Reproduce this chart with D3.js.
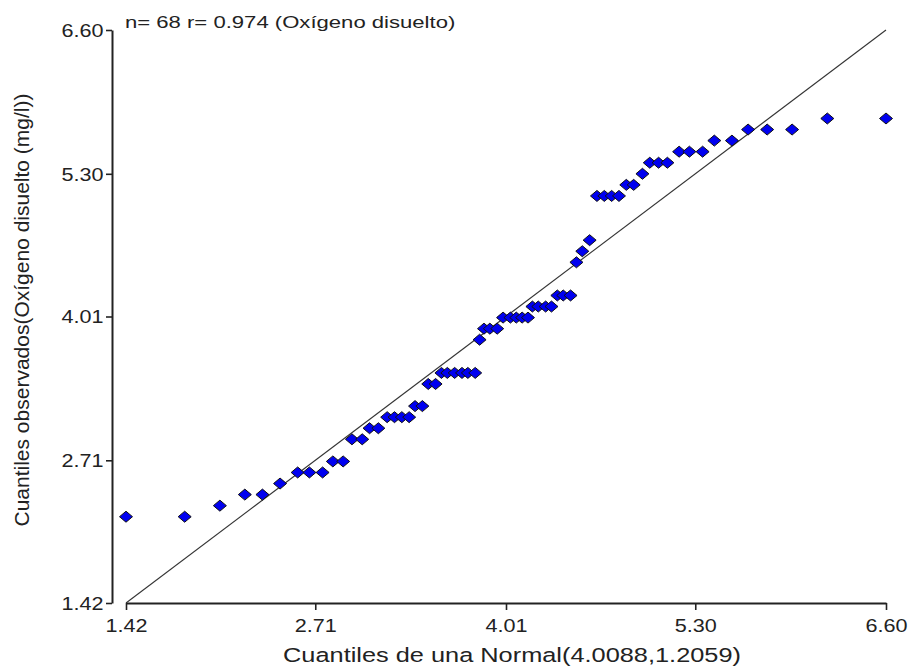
<!DOCTYPE html>
<html>
<head>
<meta charset="utf-8">
<script src="https://cdn.jsdelivr.net/npm/d3@7"></script>
<style>
  body { margin: 0; background: #fff; }
  text { font-family: "Liberation Sans", Arial, sans-serif; fill: #222; }
</style>
</head>
<body>
<div id="chart"></div>
<script>
const normalQuantiles = [
    1.42, 1.82, 2.06, 2.23, 2.35, 2.47, 2.59, 2.67, 2.76, 2.83,
    2.90, 2.96, 3.03, 3.08, 3.14, 3.20, 3.25, 3.30, 3.35, 3.39,
    3.44, 3.48, 3.53, 3.57, 3.61, 3.66, 3.71, 3.75, 3.80, 3.83,
    3.86, 3.90, 3.95, 3.99, 4.04, 4.08, 4.12, 4.16, 4.19, 4.23,
    4.28, 4.32, 4.36, 4.40, 4.45, 4.49, 4.53, 4.58, 4.63, 4.68,
    4.73, 4.78, 4.83, 4.88, 4.94, 4.99, 5.05, 5.11, 5.19, 5.26,
    5.35, 5.43, 5.55, 5.66, 5.79, 5.96, 6.20, 6.60
];
const observed = [
    2.2, 2.2, 2.3, 2.4, 2.4, 2.5, 2.6, 2.6, 2.6, 2.7,
    2.7, 2.9, 2.9, 3.0, 3.0, 3.1, 3.1, 3.1, 3.1, 3.2,
    3.2, 3.4, 3.4, 3.5, 3.5, 3.5, 3.5, 3.5, 3.5, 3.8,
    3.9, 3.9, 3.9, 4.0, 4.0, 4.0, 4.0, 4.0, 4.1, 4.1,
    4.1, 4.1, 4.2, 4.2, 4.2, 4.5, 4.6, 4.7, 5.1, 5.1,
    5.1, 5.1, 5.2, 5.2, 5.3, 5.4, 5.4, 5.4, 5.5, 5.5,
    5.5, 5.6, 5.6, 5.7, 5.7, 5.7, 5.8, 5.8
];
const tickValues = [1.42, 2.71, 4.01, 5.30, 6.60];
const tickLabels = ['1.42', '2.71', '4.01', '5.30', '6.60'];
const titleText = 'n= 68 r= 0.974 (Oxígeno disuelto)';
const xTitle = 'Cuantiles de una Normal(4.0088,1.2059)';
const yTitle = 'Cuantiles observados(Oxígeno disuelto (mg/l))';

const width = 915, height = 668;

const svg = d3.select('#chart')
    .append('svg')
    .attr('width', width)
    .attr('height', height);

svg.append('rect')
    .attr('width', width)
    .attr('height', height)
    .attr('fill', '#fff');

const x = d3.scaleLinear().domain([1.42, 6.60]).range([126, 886]);
const y = d3.scaleLinear().domain([1.42, 6.60]).range([603, 30]);

// x axis
const xAxis = svg.append('g')
    .attr('transform', `translate(0,${y.range()[0]})`)
    .call(d3.axisBottom(x)
        .tickValues(tickValues)
        .tickFormat((d, i) => tickLabels[i])
        .tickSize(7)
        .tickSizeOuter(0));

// y axis sits a little left of the x axis start
const yAxis = svg.append('g')
    .attr('transform', 'translate(112,0)')
    .call(d3.axisLeft(y)
        .tickValues(tickValues)
        .tickFormat((d, i) => tickLabels[i])
        .tickSize(6)
        .tickSizeOuter(0));

[xAxis, yAxis].forEach(ax => {
    ax.select('.domain').attr('stroke', '#222').attr('stroke-width', 2);
    ax.selectAll('.tick line').attr('stroke', '#222').attr('stroke-width', 1.6);
    ax.selectAll('.tick text')
        .attr('fill', '#222')
        .attr('font-size', '18px')
        .attr('font-family', '"Liberation Sans", Arial, sans-serif');
});

// the reference text is drawn a bit wide
xAxis.selectAll('.tick text')
    .attr('y', 16)
    .attr('transform', 'scale(1.2,1)');

yAxis.selectAll('.tick text')
    .attr('x', -7)
    .attr('dy', '0.36em')
    .attr('transform', 'scale(1.2,1)');

// reference line y = x
svg.append('line')
    .attr('x1', x(x.domain()[0]))
    .attr('y1', y(x.domain()[0]))
    .attr('x2', x(x.domain()[1]))
    .attr('y2', y(x.domain()[1]))
    .attr('stroke', '#333')
    .attr('stroke-width', 1.1);

// points
const diamond = 'M0,-5.5L6.5,0L0,5.5L-6.5,0Z';
svg.append('g')
    .selectAll('path')
    .data(normalQuantiles.map((q, i) => ({ q, v: observed[i] })))
    .join('path')
    .attr('d', diamond)
    .attr('transform', d => `translate(${x(d.q)},${y(d.v)})`)
    .attr('fill', '#0000f0')
    .attr('stroke', '#111')
    .attr('stroke-width', 1);

// titles
svg.append('text')
    .attr('transform', 'translate(125,28) scale(1.3,1)')
    .attr('font-size', '17px')
    .text(titleText);

svg.append('text')
    .attr('transform', 'translate(512,662) scale(1.3,1)')
    .attr('text-anchor', 'middle')
    .attr('font-size', '19.5px')
    .text(xTitle);

svg.append('text')
    .attr('transform', 'translate(29,310) rotate(-90)')
    .attr('text-anchor', 'middle')
    .attr('font-size', '21px')
    .text(yTitle);
</script>
</body>
</html>
